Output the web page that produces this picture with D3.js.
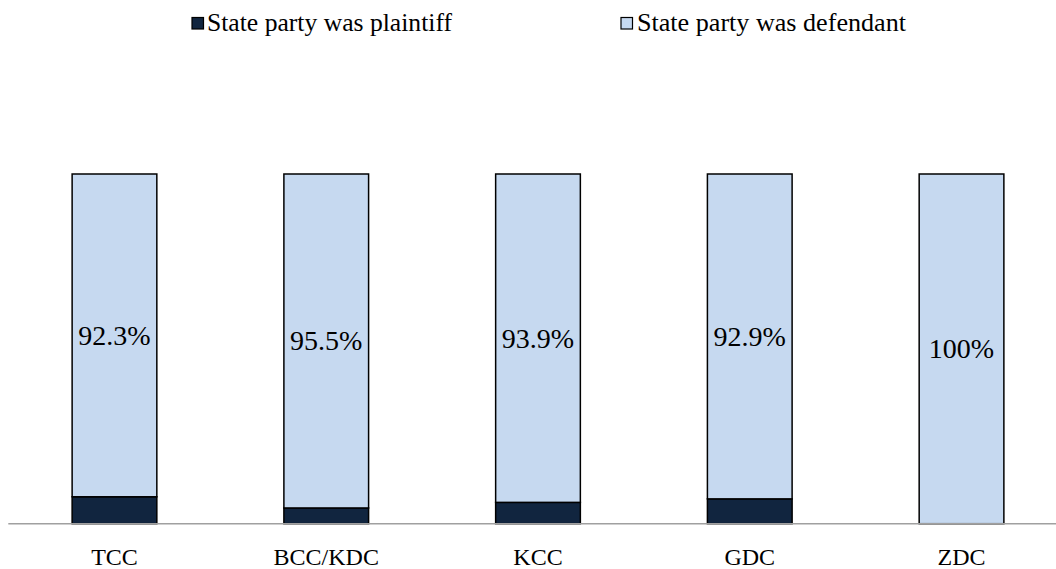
<!DOCTYPE html>
<html>
<head>
<meta charset="utf-8">
<script src="https://cdn.jsdelivr.net/npm/d3@7"></script>
<style>
  html, body { margin: 0; padding: 0; background: #fff; }
  svg { display: block; font-family: "Liberation Serif", "DejaVu Serif", serif; }
</style>
</head>
<body>
<svg id="chart" width="1056" height="569"></svg>
<script>
const categories = ["TCC", "BCC/KDC", "KCC", "GDC", "ZDC"];
const plaintiff = [7.7, 4.5, 6.1, 7.1, 0];
const defendant = [92.3, 95.5, 93.9, 92.9, 100];
const defendantLabels = ["92.3%", "95.5%", "93.9%", "92.9%", "100%"];
const seriesNames = ["State party was plaintiff", "State party was defendant"];
const colors = ["#11253f", "#c6d9f0"];

const svg = d3.select("#chart");

const x = d3.scaleBand()
  .domain(categories)
  .range([8.6, 1067.4])
  .paddingInner(0.6)
  .paddingOuter(0.3);

const y = d3.scaleLinear().domain([0, 100]).range([523.7, 174]);

const rows = categories.map((c, i) => ({ cat: c, p: plaintiff[i], d: defendant[i], label: defendantLabels[i] }));
const stack = d3.stack().keys(["p", "d"])(rows);

// Bars
stack.forEach((layer, li) => {
  svg.append("g")
    .selectAll("rect")
    .data(layer.filter(s => s[1] - s[0] > 0))
    .join("rect")
    .attr("x", s => x(s.data.cat))
    .attr("width", x.bandwidth())
    .attr("y", s => y(s[1]))
    .attr("height", s => y(s[0]) - y(s[1]))
    .attr("fill", colors[li])
    .attr("stroke", "#000")
    .attr("stroke-width", 1.5);
});

// Axis line
const axis = svg.append("g")
  .attr("transform", `translate(0,${y(0)})`)
  .call(d3.axisBottom(x).tickSize(0).tickPadding(0).tickFormat(""));
axis.select(".domain").attr("stroke", "#a0a0a0").attr("stroke-width", 1.4)
  .attr("d", "M8.3,0H1056");

// Category labels
svg.append("g")
  .selectAll("text")
  .data(categories)
  .join("text")
  .attr("x", d => x(d) + x.bandwidth() / 2)
  .attr("y", 565)
  .attr("text-anchor", "middle")
  .attr("font-size", 24)
  .attr("fill", "#000")
  .text(d => d);

// Data labels
const defLayer = stack[1];
svg.append("g")
  .selectAll("text")
  .data(defLayer)
  .join("text")
  .attr("x", s => x(s.data.cat) + x.bandwidth() / 2)
  .attr("y", s => (y(s[0]) + y(s[1])) / 2 + 9.5)
  .attr("text-anchor", "middle")
  .attr("font-size", 28)
  .attr("fill", "#000")
  .text(s => s.data.label);

// Legend
const legendPos = [
  { mx: 192, tx: 207, tw: 245 },
  { mx: 621, tx: 637, tw: 269 }
];
const lg = svg.append("g");
seriesNames.forEach((name, i) => {
  lg.append("rect")
    .attr("x", legendPos[i].mx)
    .attr("y", 17.5)
    .attr("width", 11.5)
    .attr("height", 11.5)
    .attr("fill", colors[i])
    .attr("stroke", "#000")
    .attr("stroke-width", 1.2);
  lg.append("text")
    .attr("x", legendPos[i].tx)
    .attr("y", 31)
    .attr("font-size", 25)
    .attr("fill", "#000")
    .attr("textLength", legendPos[i].tw)
    .attr("lengthAdjust", "spacingAndGlyphs")
    .text(name);
});
</script>
</body>
</html>
